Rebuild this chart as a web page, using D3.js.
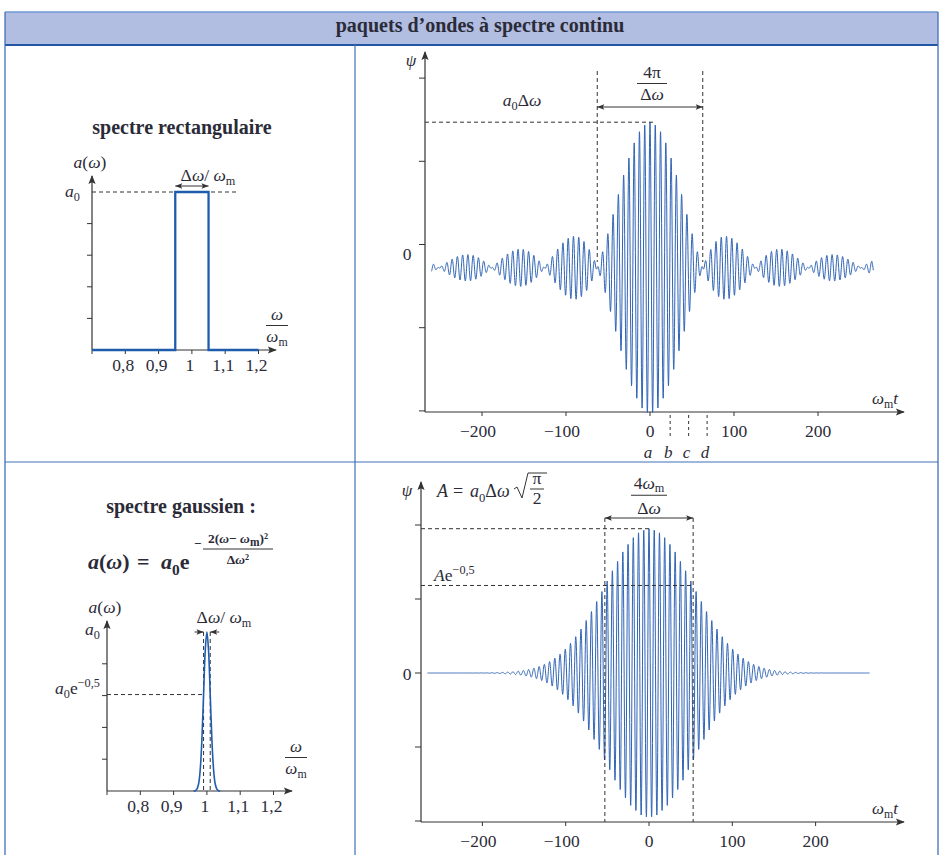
<!DOCTYPE html>
<html>
<head>
<meta charset="utf-8">
<script src="https://cdn.jsdelivr.net/npm/d3@7"></script>
<style>
body { margin: 0; background: #fff; }
text { font-family: "Liberation Serif", "Times New Roman", serif; fill: #2b2b38; }
</style>
</head>
<body>
<svg id="fig" width="941" height="855"></svg>
<script>
// ---- values ----
var freqTicks = [0.8, 0.9, 1, 1.1, 1.2];
var freqTickLabels = ["0,8", "0,9", "1", "1,1", "1,2"];
var ampTicks = [1, 2, 3, 4];            // a0 = 5 tick steps
var timeTicks = [-200, -100, 0, 100, 200];
var timeTickLabels = ["\u2212200", "\u2212100", "0", "100", "200"];
var psiTicks = [-2, -1, 0, 1, 2];

// rectangular spectrum (omega / omega_m, amplitude)
var rectOmega = [0.7, 0.95, 0.95, 1.05, 1.05, 1.2];
var rectAmp = [0, 0, 5, 5, 0, 0];
var rectBand = [0.95, 1.05];

// gaussian spectrum (omega / omega_m, amplitude)
var gaussOmega = [0.96, 0.965, 0.97, 0.975, 0.98, 0.985, 0.99, 0.995, 1, 1.005, 1.01, 1.015, 1.02, 1.025, 1.03, 1.035, 1.04];
var gaussAmp = [0, 0.01, 0.06, 0.22, 0.68, 1.62, 3.03, 4.41, 5, 4.41, 3.03, 1.62, 0.68, 0.22, 0.06, 0.01, 0];
var gaussBand = [0.99, 1.01];

// wave packets (omega_m t)
var sincPacket = { span: [-260, 266], zeros: [-62.8, 62.8], amp: 1.75, offset: -0.28 };
var gaussPacket = { span: [-266, 265], halfWidth: [-53, 53], amp: 1.95 };
var markerT = [0, 24, 46, 68];
var markerLabels = ["a", "b", "c", "d"];

var blue = "#3064b6";

var svg = d3.select("#fig");

// arrow heads
var defs = svg.append("defs");
defs.append("marker").attr("id", "axArrow")
    .attr("viewBox", "0 -5 10 10").attr("refX", 9).attr("refY", 0)
    .attr("markerWidth", 11).attr("markerHeight", 9).attr("markerUnits", "userSpaceOnUse")
    .attr("orient", "auto")
    .append("path").attr("d", "M0,-4L10,0L0,4L2,0Z").attr("fill", "#333");
defs.append("marker").attr("id", "dimArrow")
    .attr("viewBox", "0 -5 10 10").attr("refX", 10).attr("refY", 0)
    .attr("markerWidth", 8).attr("markerHeight", 7).attr("markerUnits", "userSpaceOnUse")
    .attr("orient", "auto-start-reverse")
    .append("path").attr("d", "M0,-4L10,0L0,4L2,0Z").attr("fill", "#333");

// rich text with sub / sup / italic parts
function rich(sel, x, y, parts, size, anchor, weight) {
    var t = sel.append("text").attr("x", x).attr("y", y).attr("font-size", size)
        .attr("text-anchor", anchor || "start");
    if (weight) t.attr("font-weight", weight);
    var cur = 0;
    parts.forEach(function(p) {
        if (typeof p === "string") p = { t: p };
        var shift = p.sub ? size * (p.drop || 0.25) : p.sup ? -size * 0.42 : 0;
        var ts = t.append("tspan").text(p.t).attr("dy", shift - cur);
        cur = shift;
        if (p.sub || p.sup) ts.attr("font-size", size * (p.sz || 0.7));
        if (p.i) ts.attr("font-style", "italic");
    });
    return t;
}

function line(g, x1, y1, x2, y2, opts) {
    opts = opts || {};
    var l = g.append("line").attr("x1", x1).attr("y1", y1).attr("x2", x2).attr("y2", y2)
        .attr("stroke", opts.color || "#333").attr("stroke-width", opts.w || 1);
    if (opts.dash) l.attr("stroke-dasharray", opts.dash);
    if (opts.end) l.attr("marker-end", "url(#" + opts.end + ")");
    if (opts.start) l.attr("marker-start", "url(#" + opts.start + ")");
    return l;
}

function fraction(g, cx, yTop, top, bottom, size, barW, gap) {
    gap = gap || 20;
    rich(g, cx, yTop, top, size, "middle");
    line(g, cx - barW / 2, yTop + gap / 4, cx + barW / 2, yTop + gap / 4, { color: "#333", w: 1 });
    rich(g, cx, yTop + gap, bottom, size, "middle");
}

// ---- table frame ----
var frame = svg.append("g");
frame.append("rect").attr("x", 5).attr("y", 12).attr("width", 933).attr("height", 33).attr("fill", "#b1bde1");
line(frame, 5, 12, 938, 12, { color: "#6f9ad2", w: 1.5 });
line(frame, 5, 45, 938, 45, { color: "#2457a3", w: 2 });
line(frame, 5, 12, 5, 855, { color: "#3f72b8", w: 1.3 });
line(frame, 938, 12, 938, 855, { color: "#3f72b8", w: 1.3 });
line(frame, 355, 45, 355, 855, { color: "#3f72b8", w: 1.2 });
line(frame, 5, 462, 938, 462, { color: "#3f72b8", w: 1.2 });
frame.append("text").attr("x", 480).attr("y", 32).attr("text-anchor", "middle")
    .attr("font-size", 20).attr("font-weight", "bold").attr("fill", "#222")
    .text("paquets d\u2019ondes \u00e0 spectre continu");

// ---- spectrum panel helper ----
function spectrumPanel(opt) {
    var g = svg.append("g");
    var x = d3.scaleLinear().domain([0.7, 1.2]).range([opt.x0, opt.x0 + 166.5]);
    var y = d3.scaleLinear().domain([0, 5]).range([opt.y0, opt.y0 - opt.unit * 5]);
    line(g, opt.x0, opt.y0, opt.xEnd, opt.y0, { end: "axArrow", w: 1.2 });
    line(g, opt.x0, opt.y0, opt.x0, opt.yEnd, { end: "axArrow", w: 1.2 });
    freqTicks.forEach(function(v, i) {
        line(g, x(v), opt.y0, x(v), opt.y0 + 4);
        g.append("text").attr("x", x(v) - 2).attr("y", opt.y0 + 21).attr("text-anchor", "middle")
            .attr("font-size", 17.5).text(freqTickLabels[i]);
    });
    line(g, x(0.7), opt.y0, x(0.7), opt.y0 + 4);
    ampTicks.forEach(function(v) { line(g, opt.x0 - 5, y(v), opt.x0, y(v)); });
    // x axis label fraction
    fraction(g, opt.fx, opt.fy, [{ t: "\u03c9", i: true }], [{ t: "\u03c9", i: true }, { t: "m", sub: true }], 17, 22, 22);
    rich(g, opt.x0 - 2, opt.yEnd - 8, [{ t: "a", i: true }, "(", { t: "\u03c9", i: true }, ")"], 17.5, "middle");
    return { g: g, x: x, y: y };
}

// ---- top left: rectangular spectrum ----
var p1 = spectrumPanel({ x0: 92, y0: 350, unit: 31.6, xEnd: 276, yEnd: 176, fx: 277, fy: 320 });
p1.g.append("text").attr("x", 182).attr("y", 134).attr("text-anchor", "middle")
    .attr("font-size", 20).attr("font-weight", "bold").attr("fill", "#222").text("spectre rectangulaire");
line(p1.g, 92, p1.y(5), 238, p1.y(5), { dash: "4,3" });
rich(p1.g, 65, 197, [{ t: "a", i: true }, { t: "0", sub: true }], 17.5, "start");
p1.g.append("path")
    .datum(d3.zip(rectOmega, rectAmp))
    .attr("d", d3.line().x(function(d) { return p1.x(d[0]); }).y(function(d) { return p1.y(d[1]); }))
    .attr("fill", "none").attr("stroke", "#1f5cad").attr("stroke-width", 2.3);
line(p1.g, p1.x(rectBand[0]), 186, p1.x(rectBand[1]), 186, { start: "dimArrow", end: "dimArrow" });
rich(p1.g, 208, 181, ["\u0394", { t: "\u03c9", i: true }, "/ ", { t: "\u03c9", i: true }, { t: "m", sub: true }], 17.5, "middle");

// ---- bottom left: gaussian spectrum ----
var p3 = spectrumPanel({ x0: 107, y0: 791, unit: 31.8, xEnd: 292, yEnd: 621, fx: 296, fy: 752 });
p3.g.append("text").attr("x", 181).attr("y", 513).attr("text-anchor", "middle")
    .attr("font-size", 20).attr("font-weight", "bold").attr("fill", "#222").text("spectre gaussien :");
rich(p3.g, 88, 569, [{ t: "a", i: true }, "(", { t: "\u03c9", i: true }, ")"], 22, "start", "bold");
rich(p3.g, 137, 569, ["="], 22, "start", "bold");
rich(p3.g, 161, 569, [{ t: "a", i: true }, { t: "0", sub: true }, "e"], 22, "start", "bold");
rich(p3.g, 194, 548, ["\u2212"], 13, "start", "bold");
rich(p3.g, 238, 543, ["2(", { t: "\u03c9", i: true }, "\u2212 ", { t: "\u03c9", i: true }, { t: "m", sub: true, sz: 0.85 }, ")\u00b2"], 13.5, "middle", "bold");
line(p3.g, 203, 549, 273, 549, { w: 1 });
rich(p3.g, 238, 564, ["\u0394", { t: "\u03c9", i: true }, "\u00b2"], 13.5, "middle", "bold");

line(p3.g, 107, p3.y(5 * Math.exp(-0.5)), p3.x(gaussBand[0]), p3.y(5 * Math.exp(-0.5)), { dash: "4,3" });
gaussBand.forEach(function(v) { line(p3.g, p3.x(v), p3.y(5), p3.x(v), 791, { dash: "4,3" }); });
p3.g.append("path")
    .datum(d3.zip(gaussOmega, gaussAmp))
    .attr("d", d3.line().curve(d3.curveCatmullRom).x(function(d) { return p3.x(d[0]); }).y(function(d) { return p3.y(d[1]); }))
    .attr("fill", "none").attr("stroke", "#1f5cad").attr("stroke-width", 1.6);
line(p3.g, p3.x(gaussBand[0]) - 9, 632, p3.x(gaussBand[0]), 632, { end: "dimArrow" });
line(p3.g, p3.x(gaussBand[1]) + 9, 632, p3.x(gaussBand[1]), 632, { end: "dimArrow" });
rich(p3.g, 224, 623, ["\u0394", { t: "\u03c9", i: true }, "/ ", { t: "\u03c9", i: true }, { t: "m", sub: true }], 17.5, "middle");
rich(p3.g, 85, 635, [{ t: "a", i: true }, { t: "0", sub: true }], 17.5, "start");
rich(p3.g, 55, 694, [{ t: "a", i: true }, { t: "0", sub: true }, "e", { t: "\u22120,5", sup: true }], 17.5, "start");

// ---- wave panel helper ----
function wavePanel(opt) {
    var g = svg.append("g");
    var x = d3.scaleLinear().domain([0, 100]).range([opt.zx, opt.zx + opt.px100]);
    var y = d3.scaleLinear().domain([0, 1]).range([opt.zy, opt.zy - opt.unit]);
    line(g, opt.ax, opt.axisY, opt.ax, opt.yEnd, { end: "axArrow", w: 1.2 });
    line(g, opt.ax, opt.axisY, 904, opt.axisY, { end: "axArrow", w: 1.2 });
    psiTicks.forEach(function(v) { line(g, opt.ax - 6, y(v), opt.ax, y(v)); });
    timeTicks.forEach(function(v, i) {
        line(g, x(v), opt.axisY, x(v), opt.axisY + 4);
        g.append("text").attr("x", x(v) - (v < 0 ? 4 : 0)).attr("y", opt.axisY + 25).attr("text-anchor", "middle")
            .attr("font-size", 17.5).text(timeTickLabels[i]);
    });
    g.append("text").attr("x", 407).attr("y", y(0) + opt.zeroDy).attr("text-anchor", "middle").attr("font-size", 17.5).text("0");
    g.append("text").attr("x", opt.ax - 14).attr("y", opt.yEnd + 14).attr("text-anchor", "middle")
        .attr("font-size", 17).attr("font-style", "italic").text("\u03c8");
    rich(g, 872, opt.axisY - 8, [{ t: "\u03c9", i: true }, { t: "m", sub: true }, { t: "t", i: true }], 17, "start");
    return { g: g, x: x, y: y };
}

// ---- top right: sinc packet ----
var p2 = wavePanel({ zx: 650, px100: 84, zy: 244.5, unit: 83.2, ax: 425, axisY: 412, yEnd: 52, zeroDy: 15 });
var tSinc = d3.range(sincPacket.span[0], sincPacket.span[1], 0.2);
p2.g.append("path")
    .datum(tSinc)
    .attr("d", d3.line()
        .x(function(t) { return p2.x(t); })
        .y(function(t) {
            var u = Math.PI * t / sincPacket.zeros[1];
            var env = Math.abs(u) < 1e-9 ? 1 : Math.sin(u) / u;
            return p2.y(sincPacket.offset + sincPacket.amp * env * Math.cos(t));
        }))
    .attr("fill", "none").attr("stroke", blue).attr("stroke-width", 1);
var sincTop = sincPacket.offset + sincPacket.amp;
line(p2.g, 425, p2.y(sincTop), p2.x(0) + 3, p2.y(sincTop), { dash: "4,3" });
sincPacket.zeros.forEach(function(v) { line(p2.g, p2.x(v), 71, p2.x(v), 262, { dash: "4,3" }); });
line(p2.g, p2.x(sincPacket.zeros[0]), 107, p2.x(sincPacket.zeros[1]), 107, { start: "dimArrow", end: "dimArrow" });
fraction(p2.g, p2.x(0) + 2, 78, ["4\u03c0"], ["\u0394", { t: "\u03c9", i: true }], 17.5, 30, 22);
rich(p2.g, 522, 106, [{ t: "a", i: true }, { t: "0", sub: true }, "\u0394", { t: "\u03c9", i: true }], 17.5, "middle");
markerT.forEach(function(v, i) {
    if (i > 0) line(p2.g, p2.x(v), 415, p2.x(v), 437, { dash: "3,3" });
    p2.g.append("text").attr("x", p2.x(v) - 2).attr("y", 458).attr("text-anchor", "middle")
        .attr("font-size", 17).attr("font-style", "italic").text(markerLabels[i]);
});

// ---- bottom right: gaussian packet ----
var p4 = wavePanel({ zx: 649, px100: 83.3, zy: 673, unit: 74, ax: 421, axisY: 822, yEnd: 482, zeroDy: 7 });
var tGauss = d3.range(gaussPacket.span[0], gaussPacket.span[1], 0.2);
var sigma = gaussPacket.halfWidth[1];
p4.g.append("path")
    .datum(tGauss)
    .attr("d", d3.line()
        .x(function(t) { return p4.x(t); })
        .y(function(t) { return p4.y(gaussPacket.amp * Math.exp(-t * t / (2 * sigma * sigma)) * Math.cos(t)); }))
    .attr("fill", "none").attr("stroke", blue).attr("stroke-width", 1);
var aLev = gaussPacket.amp, aLev2 = gaussPacket.amp * Math.exp(-0.5);
line(p4.g, 421, p4.y(aLev), p4.x(0) + 1, p4.y(aLev), { dash: "4,3" });
line(p4.g, 421, p4.y(aLev2), p4.x(sigma), p4.y(aLev2), { dash: "4,3" });
gaussPacket.halfWidth.forEach(function(v) { line(p4.g, p4.x(v), 518, p4.x(v), 822, { dash: "4,3" }); });
line(p4.g, p4.x(-sigma), 518, p4.x(sigma), 518, { start: "dimArrow", end: "dimArrow" });
fraction(p4.g, p4.x(0), 489, ["4", { t: "\u03c9", i: true }, { t: "m", sub: true, drop: 0.18 }], ["\u0394", { t: "\u03c9", i: true }], 17.5, 36, 25);
rich(p4.g, 437, 497, [{ t: "A", i: true }], 18, "start");
rich(p4.g, 453, 497, ["="], 18, "start");
rich(p4.g, 470, 497, [{ t: "a", i: true }, { t: "0", sub: true }, "\u0394", { t: "\u03c9", i: true }], 18, "start");
p4.g.append("path").attr("d", "M514,489L517,487L522,498L528,473L547,473")
    .attr("fill", "none").attr("stroke", "#333").attr("stroke-width", 1);
fraction(p4.g, 537, 484, ["\u03c0"], ["2"], 17.5, 14, 20);
rich(p4.g, 434, 581, [{ t: "A", i: true }, "e", { t: "\u22120,5", sup: true }], 17.5, "start");
</script>
</body>
</html>
